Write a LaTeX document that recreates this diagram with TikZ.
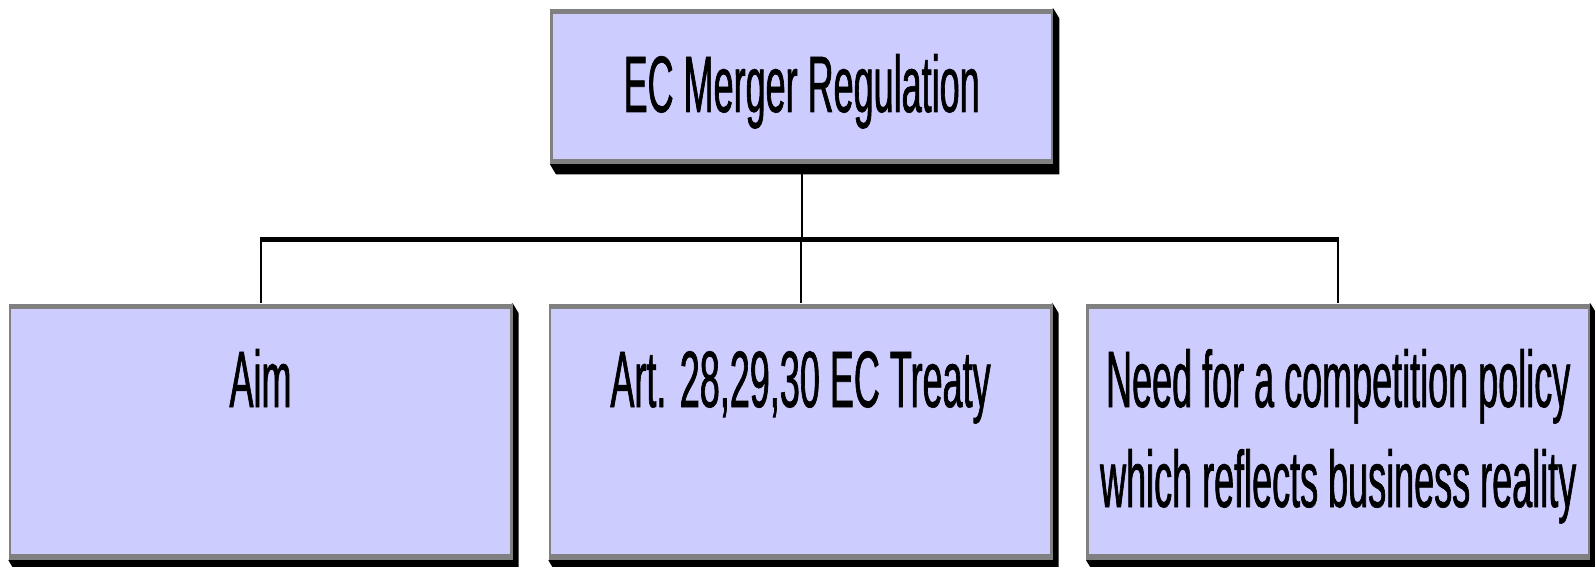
\documentclass[tikz,border=0pt]{standalone}
\usepackage{fontspec}
\newfontfamily\narrowfont[FakeStretch=0.45,FakeBold=0.8]{Liberation Sans}
\usetikzlibrary{backgrounds}
\definecolor{boxfill}{HTML}{CCCCFF}
\definecolor{boxedge}{HTML}{808080}
\tikzset{
  box/.style={fill=boxedge, inner sep=0pt, anchor=north west,
    minimum width=504pt, minimum height=256.4pt,
    path picture={\fill[boxfill] ([xshift=2.5pt,yshift=-5.5pt]path picture bounding box.north west) rectangle ([xshift=-2.5pt,yshift=5.5pt]path picture bounding box.south east);}},
  boxtext/.style={anchor=base, inner sep=0pt, align=center,
    font=\narrowfont\fontsize{80}{100}\selectfont},
  boxshadow/.style={fill=black},
  link/.style={line width=2pt},
  busline/.style={line width=4.5pt}
}
\begin{document}
\begin{tikzpicture}[x=1pt,y=-1pt]
\useasboundingbox (0,0) rectangle (1595,567);
% boxes
\node[box, minimum width=503pt, minimum height=155.5pt] (top) at (550,8.5) {};
\node[box] (aim)  at (8.3,303.3) {};
\node[box] (art)  at (548.3,303.3) {};
\node[box] (need) at (1086,303.3) {};
% shadows
\begin{scope}[on background layer]
\foreach \n in {top,aim,art,need}
  \fill[boxshadow] (\n.north east) -- ([shift={(6,10)}]\n.north east)
    -- ([shift={(6,10)}]\n.south east) -- ([shift={(6,10)}]\n.south west)
    -- (\n.south west) -- cycle;
\end{scope}
% texts
\path (top.north) ++(0,103.5) node[boxtext] (toptext) {EC Merger Regulation};
\path (aim.north) ++(0,103.7) node[boxtext] (aimtext) {Aim};
\path (art.north) ++(0,103.7) node[boxtext] (arttext) {Art. 28,29,30 EC Treaty};
\path (need.north) ++(0,203.7) node[boxtext] (needtext) {Need for a competition policy\\which reflects business reality};
% connectors
\coordinate (busy) at (0,239.5);
\draw[link] (top.south) -- (top.south |- busy);
\draw[busline] ([xshift=-1pt]aim.north |- busy) -- ([xshift=1pt]need.north |- busy);
\foreach \n in {aim,art,need}
  \draw[link] (\n.north |- busy) -- (\n.north);
\end{tikzpicture}
\end{document}
